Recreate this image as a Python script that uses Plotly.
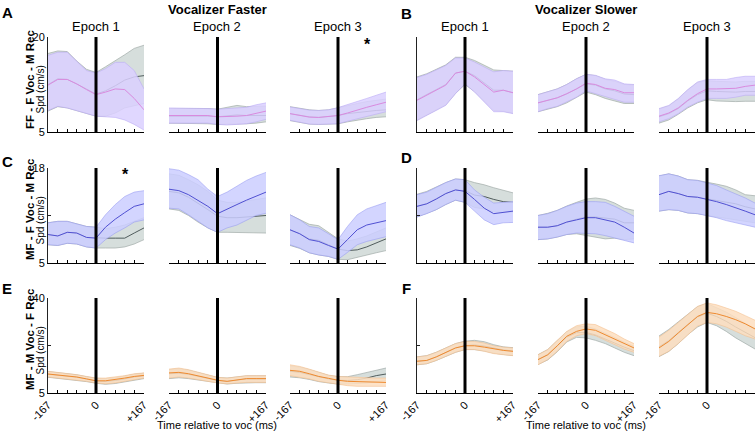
import plotly.graph_objects as go

# ---------------- data ----------------
time_ms = [-167, -133, -100, -67, -33, 0, 33, 67, 100, 133, 167]
x_tick_vals = [-167, -133, -100, -67, -33, 0, 33, 67, 100, 133, 167]
x_tick_text = ["-167", "", "", "", "", "0", "", "", "", "", "+167"]

epoch_titles = ["Epoch 1", "Epoch 2", "Epoch 3"]
group_titles = ["Vocalizer Faster", "Vocalizer Slower"]
row_labels = ["FF - F Voc - M Rec", "MF - F Voc - M Rec", "MF - M Voc - F Rec"]
panel_letters = ["A", "B", "C", "D", "E", "F"]

row_a_yrange = [5, 20]
row_c_yrange = [5, 18]
row_e_yrange = [5, 40]
row_a_yticks = [5, 20]
row_c_yticks = [5, 11.5, 18]
row_e_yticks = [5, 22.5, 40]
row_a_ytext = ["5", "20"]
row_c_ytext = ["5", "", "18"]
row_e_ytext = ["5", "", "40"]

# Panel A (Vocalizer Faster, FF - F Voc - M Rec)
A1_mean = [12.4, 13.3, 13.3, 12.6, 11.7, 10.9, 11.3, 11.8, 11.7, 10.3, 8.5]
A1_hi = [17.1, 17.6, 17.6, 16.1, 14.7, 14.3, 15.0, 16.0, 16.0, 14.7, 11.8]
A1_lo = [8.4, 9.05, 8.8, 8.4, 8.0, 7.5, 7.4, 7.3, 6.9, 6.2, 5.3]
A1_gmean = [12.5, 13.4, 13.3, 12.6, 11.8, 11.0, 11.5, 12.3, 13.2, 13.7, 13.9]
A1_ghi = [17.4, 17.8, 17.7, 16.2, 14.9, 14.4, 15.3, 16.2, 17.2, 18.2, 18.7]
A1_glo = [8.3, 9.0, 8.8, 8.4, 8.0, 7.5, 7.5, 8.0, 8.8, 9.2, 9.5]

A2_mean = [7.6, 7.6, 7.65, 7.7, 7.6, 7.4, 7.4, 7.5, 7.6, 7.9, 8.3]
A2_hi = [8.8, 8.8, 8.8, 8.8, 8.7, 8.6, 8.7, 8.8, 8.9, 9.3, 9.6]
A2_lo = [6.4, 6.4, 6.5, 6.5, 6.4, 6.2, 6.1, 6.2, 6.3, 6.6, 7.0]
A2_gmean = [7.5, 7.5, 7.6, 7.6, 7.5, 7.4, 7.5, 7.7, 7.6, 7.6, 7.6]
A2_ghi = [8.7, 8.7, 8.8, 8.8, 8.7, 8.6, 8.9, 9.2, 9.0, 9.0, 9.1]
A2_glo = [6.4, 6.4, 6.4, 6.4, 6.3, 6.2, 6.2, 6.3, 6.3, 6.4, 6.6]

A3_mean = [7.9, 7.6, 7.35, 7.3, 7.4, 7.6, 8.0, 8.5, 8.9, 9.3, 9.7]
A3_hi = [8.95, 8.7, 8.45, 8.4, 8.5, 8.85, 9.3, 9.8, 10.3, 10.8, 11.3]
A3_lo = [6.85, 6.5, 6.25, 6.2, 6.25, 6.3, 6.7, 7.1, 7.5, 7.9, 8.2]
A3_gmean = [7.9, 7.6, 7.4, 7.3, 7.4, 7.6, 7.9, 8.1, 8.3, 8.4, 8.5]
A3_ghi = [9.0, 8.7, 8.5, 8.4, 8.5, 8.8, 9.2, 9.5, 9.8, 10.0, 10.2]
A3_glo = [6.8, 6.5, 6.25, 6.2, 6.2, 6.3, 6.6, 6.9, 7.1, 7.3, 7.4]

# Panel B (Vocalizer Slower, FF - F Voc - M Rec)
B1_mean = [10.0, 10.8, 11.5, 12.4, 14.3, 14.6, 13.7, 12.5, 11.3, 11.6, 11.2]
B1_hi = [13.6, 14.1, 14.8, 15.5, 16.7, 16.7, 16.05, 15.3, 14.5, 14.7, 14.6]
B1_lo = [6.8, 7.6, 8.4, 9.2, 11.05, 12.6, 11.3, 9.7, 8.2, 8.2, 7.9]
B1_gmean = [10.1, 10.9, 11.6, 12.5, 14.3, 14.6, 13.9, 12.8, 11.6, 11.6, 11.2]
B1_ghi = [13.7, 14.2, 14.9, 15.6, 16.8, 16.8, 16.3, 15.6, 14.8, 14.7, 14.6]
B1_glo = [6.9, 7.7, 8.5, 9.3, 11.1, 12.5, 11.4, 9.9, 8.4, 8.3, 8.0]

B2_mean = [9.6, 10.0, 10.4, 11.05, 11.8, 12.7, 12.5, 11.9, 11.7, 11.2, 11.2]
B2_hi = [10.9, 11.3, 11.8, 12.5, 13.4, 14.1, 13.95, 13.4, 13.2, 12.6, 12.5]
B2_lo = [8.2, 8.7, 9.05, 9.7, 10.5, 11.5, 11.05, 10.5, 10.1, 9.7, 9.7]
B2_gmean = [9.6, 10.0, 10.4, 11.0, 11.8, 12.6, 12.4, 11.8, 11.5, 11.0, 10.9]
B2_ghi = [10.9, 11.3, 11.8, 12.5, 13.4, 14.1, 13.9, 13.3, 13.0, 12.5, 12.4]
B2_glo = [8.2, 8.6, 9.0, 9.6, 10.4, 11.3, 10.9, 10.3, 9.9, 9.5, 9.5]

B3_mean = [7.5, 8.0, 8.8, 10.0, 11.05, 11.8, 11.8, 11.8, 11.9, 12.2, 12.4]
B3_hi = [8.7, 9.2, 10.3, 11.7, 12.9, 13.3, 13.3, 13.3, 13.6, 13.8, 13.8]
B3_lo = [6.6, 7.1, 7.9, 8.95, 9.7, 10.3, 10.3, 10.3, 10.5, 10.8, 10.8]
B3_gmean = [7.4, 7.9, 8.7, 9.9, 10.9, 11.5, 11.4, 11.3, 11.3, 11.4, 11.4]
B3_ghi = [8.6, 9.1, 10.2, 11.6, 12.8, 13.1, 13.0, 12.9, 12.9, 13.0, 13.0]
B3_glo = [6.4, 6.9, 7.8, 8.8, 9.6, 10.1, 9.9, 9.8, 9.8, 9.85, 9.85]

# Panel C (Vocalizer Faster, MF - F Voc - M Rec)
C1_mean = [8.9, 8.7, 9.2, 9.1, 8.5, 8.4, 9.9, 11.0, 11.9, 12.75, 13.1]
C1_hi = [10.5, 10.7, 10.7, 10.4, 10.0, 9.9, 11.6, 13.0, 14.1, 14.7, 14.9]
C1_lo = [7.5, 7.4, 7.7, 7.6, 7.2, 7.05, 8.2, 9.1, 9.8, 10.6, 10.9]
C1_gmean = [8.9, 8.7, 9.2, 9.1, 8.5, 8.4, 8.4, 8.4, 8.4, 9.1, 9.8]
C1_ghi = [10.5, 10.7, 10.7, 10.4, 10.0, 9.9, 9.7, 9.9, 10.2, 10.7, 11.2]
C1_glo = [7.5, 7.4, 7.7, 7.6, 7.2, 7.05, 7.05, 7.05, 7.2, 7.6, 8.2]

C2_mean = [15.1, 14.9, 14.35, 13.6, 12.75, 11.75, 12.4, 13.0, 13.6, 14.1, 14.7]
C2_hi = [17.9, 17.7, 17.1, 16.4, 15.1, 14.1, 14.7, 15.5, 16.3, 16.9, 17.4]
C2_lo = [12.5, 12.4, 11.6, 10.7, 9.8, 9.2, 9.8, 10.2, 10.9, 11.5, 11.8]
C2_gmean = [14.8, 14.6, 14.0, 13.2, 12.3, 11.4, 11.2, 11.2, 11.3, 11.4, 11.5]
C2_ghi = [17.2, 17.0, 16.4, 15.7, 14.8, 13.6, 13.3, 13.3, 13.5, 13.7, 13.9]
C2_glo = [12.4, 12.2, 11.5, 10.6, 9.8, 9.2, 9.2, 9.15, 9.1, 9.1, 9.1]

C3_mean = [9.55, 9.0, 8.2, 7.95, 7.4, 6.9, 8.2, 9.55, 10.2, 10.5, 10.8]
C3_hi = [11.6, 10.9, 10.0, 9.8, 9.0, 8.2, 10.0, 11.6, 12.4, 12.8, 13.3]
C3_lo = [7.5, 7.05, 6.4, 6.1, 5.9, 5.5, 6.45, 7.5, 7.95, 8.3, 8.6]
C3_gmean = [9.5, 9.0, 8.3, 8.1, 7.5, 6.9, 6.7, 6.8, 7.2, 7.7, 8.3]
C3_ghi = [11.6, 10.9, 10.3, 10.1, 9.2, 8.3, 8.0, 8.3, 8.7, 9.2, 9.8]
C3_glo = [7.4, 7.0, 6.4, 6.1, 5.9, 5.5, 5.45, 5.8, 6.1, 6.4, 6.7]

# Panel D (Vocalizer Slower, MF - F Voc - M Rec)
D1_mean = [12.75, 13.1, 13.75, 14.5, 15.0, 14.8, 13.7, 12.5, 11.75, 11.9, 12.1]
D1_hi = [14.35, 14.7, 15.35, 16.0, 16.5, 16.4, 15.0, 14.0, 13.2, 13.3, 13.4]
D1_lo = [11.3, 11.75, 12.3, 13.0, 13.6, 13.3, 12.1, 10.9, 10.25, 10.5, 10.55]
D1_gmean = [12.8, 13.1, 13.8, 14.5, 15.0, 14.9, 14.3, 14.1, 13.7, 13.4, 13.3]
D1_ghi = [14.4, 14.8, 15.4, 16.0, 16.5, 16.4, 16.0, 15.7, 15.3, 14.95, 14.6]
D1_glo = [11.3, 11.8, 12.3, 13.0, 13.6, 13.3, 12.6, 12.4, 12.0, 11.9, 12.0]

D2_mean = [9.9, 9.9, 10.1, 10.6, 10.9, 11.2, 11.2, 10.9, 10.6, 9.9, 9.1]
D2_hi = [11.5, 11.75, 12.2, 12.75, 13.2, 13.4, 13.4, 13.3, 12.75, 12.1, 11.4]
D2_lo = [8.2, 8.3, 8.55, 8.9, 9.1, 9.1, 9.0, 8.75, 8.4, 8.1, 7.75]
D2_gmean = [9.9, 9.9, 10.1, 10.6, 11.0, 11.3, 11.3, 11.2, 11.0, 10.5, 10.5]
D2_ghi = [11.5, 11.8, 12.2, 12.8, 13.3, 13.75, 13.9, 13.7, 13.2, 12.5, 12.2]
D2_glo = [8.2, 8.3, 8.55, 8.9, 9.0, 8.8, 8.55, 8.3, 8.4, 8.2, 8.3]

D3_mean = [14.35, 14.8, 14.5, 14.1, 14.0, 13.75, 13.4, 13.0, 12.5, 12.1, 11.6]
D3_hi = [16.95, 17.2, 16.9, 16.4, 16.3, 16.0, 15.6, 15.0, 14.5, 13.9, 13.2]
D3_lo = [12.1, 12.3, 12.2, 11.85, 11.75, 11.5, 11.2, 10.8, 10.5, 10.25, 9.9]
D3_gmean = [14.35, 14.8, 14.5, 14.1, 14.0, 13.8, 13.6, 13.4, 13.1, 12.7, 12.4]
D3_ghi = [16.9, 17.2, 16.9, 16.4, 16.3, 16.1, 15.8, 15.5, 15.0, 14.35, 14.2]
D3_glo = [12.1, 12.3, 12.2, 11.85, 11.75, 11.5, 11.3, 11.1, 10.9, 10.7, 10.5]

# Panel E (Vocalizer Faster, MF - M Voc - F Rec)
E1_mean = [12.0, 11.6, 11.4, 10.9, 10.2, 9.5, 9.5, 9.9, 10.5, 11.1, 11.5]
E1_hi = [13.0, 12.6, 12.4, 11.75, 11.1, 10.5, 10.5, 10.9, 11.4, 12.1, 12.4]
E1_lo = [10.9, 10.5, 10.2, 9.9, 9.3, 8.7, 8.4, 8.7, 9.3, 9.9, 10.5]
E1_gmean = [11.9, 11.5, 11.3, 10.8, 10.1, 9.4, 9.3, 9.6, 10.2, 10.9, 11.3]
E1_ghi = [12.9, 12.5, 12.3, 11.7, 11.0, 10.4, 10.3, 10.6, 11.2, 11.9, 12.3]
E1_glo = [10.8, 10.4, 10.1, 9.8, 9.2, 8.6, 8.2, 8.5, 9.1, 9.7, 10.3]

E2_mean = [12.4, 12.6, 12.1, 11.4, 10.5, 9.7, 9.3, 9.9, 10.3, 10.3, 10.3]
E2_hi = [13.8, 14.2, 13.6, 12.6, 11.6, 10.8, 10.5, 10.9, 11.4, 11.4, 11.4]
E2_lo = [10.5, 10.9, 10.5, 9.9, 9.3, 8.7, 8.4, 8.7, 8.9, 8.9, 8.9]
E2_gmean = [12.1, 12.3, 11.9, 11.2, 10.4, 9.6, 9.3, 9.8, 10.2, 10.2, 10.2]
E2_ghi = [13.6, 13.9, 13.4, 12.5, 11.5, 10.7, 10.5, 10.9, 11.3, 11.3, 11.3]
E2_glo = [10.3, 10.6, 10.3, 9.8, 9.2, 8.6, 8.3, 8.6, 8.8, 8.8, 8.8]

E3_mean = [13.35, 13.0, 12.1, 11.1, 10.4, 9.7, 9.3, 9.2, 9.05, 8.9, 8.9]
E3_hi = [15.4, 14.8, 13.8, 12.6, 11.6, 11.1, 10.9, 10.65, 10.5, 10.5, 10.5]
E3_lo = [11.4, 10.9, 10.2, 9.3, 8.7, 8.1, 7.7, 7.45, 7.45, 7.45, 7.45]
E3_gmean = [13.0, 12.6, 11.8, 10.9, 10.2, 9.7, 9.6, 9.9, 10.5, 11.4, 12.0]
E3_ghi = [15.0, 14.5, 13.6, 12.5, 11.5, 11.0, 11.0, 11.75, 12.6, 13.6, 14.2]
E3_glo = [10.9, 10.6, 10.0, 9.2, 8.7, 8.3, 8.3, 8.4, 8.7, 9.1, 9.6]

# Panel F (Vocalizer Slower, MF - M Voc - F Rec)
F1_mean = [16.7, 17.0, 18.3, 20.0, 21.6, 22.4, 22.4, 21.9, 21.2, 20.7, 20.35]
F1_hi = [18.3, 18.75, 20.0, 21.6, 23.2, 24.0, 24.0, 23.4, 22.4, 21.9, 21.6]
F1_lo = [15.4, 15.8, 17.0, 18.5, 20.0, 21.0, 21.0, 20.35, 19.5, 19.1, 18.75]
F1_gmean = [16.7, 17.0, 18.3, 20.0, 21.6, 22.5, 22.7, 22.3, 21.5, 20.9, 20.5]
F1_ghi = [18.3, 18.75, 20.0, 21.6, 23.2, 24.1, 24.4, 23.9, 22.8, 22.0, 21.7]
F1_glo = [15.4, 15.8, 17.0, 18.5, 20.0, 21.0, 21.0, 20.5, 19.7, 19.2, 18.8]

F2_mean = [17.3, 19.1, 22.4, 25.9, 27.7, 28.6, 28.1, 26.5, 24.9, 23.2, 21.6]
F2_hi = [19.1, 21.0, 24.4, 27.7, 29.8, 30.5, 30.2, 28.6, 26.9, 24.9, 23.2]
F2_lo = [15.4, 17.3, 20.35, 24.0, 26.1, 26.9, 26.1, 24.4, 22.8, 21.2, 20.0]
F2_gmean = [17.3, 19.1, 22.3, 25.6, 27.2, 27.3, 26.4, 25.0, 23.4, 21.9, 20.6]
F2_ghi = [19.1, 21.0, 24.3, 27.5, 29.4, 29.6, 28.6, 27.1, 25.4, 23.7, 22.2]
F2_glo = [15.5, 17.2, 20.2, 23.8, 25.5, 25.3, 24.4, 23.2, 21.6, 20.0, 18.75]

F3_mean = [21.6, 24.0, 27.1, 30.2, 33.2, 34.7, 34.2, 33.2, 32.0, 30.5, 28.6]
F3_hi = [25.6, 28.1, 31.0, 33.9, 36.9, 38.2, 37.5, 36.3, 35.1, 33.5, 31.8]
F3_lo = [18.5, 20.35, 23.2, 26.5, 29.6, 31.0, 30.5, 29.3, 27.7, 26.1, 24.9]
F3_gmean = [22.0, 24.3, 27.3, 30.3, 33.0, 34.4, 33.2, 31.4, 29.3, 27.4, 25.4]
F3_ghi = [26.0, 28.4, 31.2, 34.0, 36.8, 38.0, 36.5, 34.8, 32.8, 30.6, 28.8]
F3_glo = [18.4, 20.3, 23.2, 26.5, 29.3, 31.0, 29.8, 27.7, 25.3, 23.4, 21.2]

# ---------------- layout / styling ----------------
W, H = 756, 433
FONT = "Liberation Sans, Arial, Helvetica, sans-serif"

col_px = [(48, 144), (169, 266), (290, 386), (417, 513), (538, 634), (659, 755)]
row_px = [(37, 132), (168, 263), (298, 393)]

row_styles = [
    dict(fill="rgba(219,208,255,0.85)", edge="rgba(185,168,245,0.8)", line="#d98ade"),
    dict(fill="rgba(203,206,255,0.85)", edge="rgba(150,155,240,0.8)", line="#5050d2"),
    dict(fill="rgba(253,222,192,0.85)", edge="rgba(245,190,140,0.8)", line="#ee8a30"),
]
gray_fill = "rgb(214,222,220)"
gray_edge = "rgb(160,170,168)"
gray_line = "rgb(80,92,92)"

panels = [
    [(A1_mean, A1_hi, A1_lo, A1_gmean, A1_ghi, A1_glo),
     (A2_mean, A2_hi, A2_lo, A2_gmean, A2_ghi, A2_glo),
     (A3_mean, A3_hi, A3_lo, A3_gmean, A3_ghi, A3_glo),
     (B1_mean, B1_hi, B1_lo, B1_gmean, B1_ghi, B1_glo),
     (B2_mean, B2_hi, B2_lo, B2_gmean, B2_ghi, B2_glo),
     (B3_mean, B3_hi, B3_lo, B3_gmean, B3_ghi, B3_glo)],
    [(C1_mean, C1_hi, C1_lo, C1_gmean, C1_ghi, C1_glo),
     (C2_mean, C2_hi, C2_lo, C2_gmean, C2_ghi, C2_glo),
     (C3_mean, C3_hi, C3_lo, C3_gmean, C3_ghi, C3_glo),
     (D1_mean, D1_hi, D1_lo, D1_gmean, D1_ghi, D1_glo),
     (D2_mean, D2_hi, D2_lo, D2_gmean, D2_ghi, D2_glo),
     (D3_mean, D3_hi, D3_lo, D3_gmean, D3_ghi, D3_glo)],
    [(E1_mean, E1_hi, E1_lo, E1_gmean, E1_ghi, E1_glo),
     (E2_mean, E2_hi, E2_lo, E2_gmean, E2_ghi, E2_glo),
     (E3_mean, E3_hi, E3_lo, E3_gmean, E3_ghi, E3_glo),
     (F1_mean, F1_hi, F1_lo, F1_gmean, F1_ghi, F1_glo),
     (F2_mean, F2_hi, F2_lo, F2_gmean, F2_ghi, F2_glo),
     (F3_mean, F3_hi, F3_lo, F3_gmean, F3_ghi, F3_glo)],
]
yranges = [row_a_yrange, row_c_yrange, row_e_yrange]
yticks = [row_a_yticks, row_c_yticks, row_e_yticks]
ytexts = [row_a_ytext, row_c_ytext, row_e_ytext]


def px_x(p):
    return p / W


def px_y(p):
    return 1 - p / H


fig = go.Figure()
layout_axes = {}
shapes = []

n = 0
for r in range(3):
    for c in range(6):
        n += 1
        xa = "x" if n == 1 else f"x{n}"
        ya = "y" if n == 1 else f"y{n}"
        mean, hi, lo, gmean, ghi, glo = panels[r][c]
        st = row_styles[r]
        # gray (comparison) band
        fig.add_trace(go.Scatter(x=time_ms, y=ghi, mode="lines", xaxis=xa, yaxis=ya,
                                 line=dict(color=gray_edge, width=0.7), hoverinfo="skip"))
        fig.add_trace(go.Scatter(x=time_ms, y=glo, mode="lines", xaxis=xa, yaxis=ya,
                                 fill="tonexty", fillcolor=gray_fill,
                                 line=dict(color=gray_edge, width=0.7), hoverinfo="skip"))
        fig.add_trace(go.Scatter(x=time_ms, y=gmean, mode="lines", xaxis=xa, yaxis=ya,
                                 line=dict(color=gray_line, width=1), hoverinfo="skip"))
        # coloured band
        fig.add_trace(go.Scatter(x=time_ms, y=hi, mode="lines", xaxis=xa, yaxis=ya,
                                 line=dict(color=st["edge"], width=0.7), hoverinfo="skip"))
        fig.add_trace(go.Scatter(x=time_ms, y=lo, mode="lines", xaxis=xa, yaxis=ya,
                                 fill="tonexty", fillcolor=st["fill"],
                                 line=dict(color=st["edge"], width=0.7), hoverinfo="skip"))
        fig.add_trace(go.Scatter(x=time_ms, y=mean, mode="lines", xaxis=xa, yaxis=ya,
                                 line=dict(color=st["line"], width=1), hoverinfo="skip"))

        x0, x1 = col_px[c]
        y0, y1 = row_px[r]
        first_col = c in (0, 3)
        show_xlabels = (r == 2)
        layout_axes["xaxis" if n == 1 else f"xaxis{n}"] = dict(
            domain=[px_x(x0), px_x(x1)], anchor=ya, range=[-167, 167],
            automargin=False,
            showgrid=False, zeroline=False, showline=True, linecolor="black", linewidth=1.3,
            ticks="inside", ticklen=3, tickwidth=1, tickcolor="black",
            tickvals=x_tick_vals,
            ticktext=x_tick_text if show_xlabels else [""] * len(x_tick_vals),
            showticklabels=show_xlabels, tickangle=-45,
            tickfont=dict(family=FONT, size=11, color="black"),
        )
        layout_axes["yaxis" if n == 1 else f"yaxis{n}"] = dict(
            domain=[px_y(y1), px_y(y0)], anchor=xa, range=yranges[r],
            automargin=False,
            showgrid=False, zeroline=False,
            showline=first_col, linecolor="#222", linewidth=1,
            ticks="inside" if first_col else "", ticklen=3, tickcolor="#222",
            tickvals=yticks[r],
            ticktext=ytexts[r] if c == 0 else [""] * len(yticks[r]),
            showticklabels=(c == 0),
            tickfont=dict(family=FONT, size=11, color="black"),
        )
        shapes.append(dict(type="line", xref=xa, yref=f"{ya} domain",
                           x0=0, x1=0, y0=0, y1=1,
                           line=dict(color="black", width=3), layer="above"))

annotations = []


def add_text(text, xp, yp, size, bold=False, angle=0, xanchor="center", yanchor="middle"):
    annotations.append(dict(
        text=f"<b>{text}</b>" if bold else text,
        x=px_x(xp), y=px_y(yp), xref="paper", yref="paper",
        showarrow=False, textangle=angle, xanchor=xanchor, yanchor=yanchor,
        font=dict(family=FONT, size=size, color="black"),
    ))


# group titles
add_text(group_titles[0], 217, 9, 13, bold=True)
add_text(group_titles[1], 586, 9, 13, bold=True)
# epoch titles
for c in range(6):
    x0, x1 = col_px[c]
    add_text(epoch_titles[c % 3], (x0 + x1) / 2, 26, 13)
# panel letters
letter_pos = [(7, 12), (406, 13), (7, 161), (406, 158), (7, 288), (406, 288)]
for letter, (lx, ly) in zip(panel_letters, letter_pos):
    add_text(letter, lx, ly, 15, bold=True)
# row labels
row_label_y = [80, 209, 339]
for r in range(3):
    y0, y1 = row_px[r]
    add_text(row_labels[r], 30, row_label_y[r], 11.5, bold=True, angle=-90)
    add_text("Spd (cm/s)", 40, (y0 + y1) / 2 + 5, 10, angle=-90)
# x titles
add_text("Time relative to voc (ms)", 217, 425, 11)
add_text("Time relative to voc (ms)", 586, 425, 11)
# significance stars
add_text("*", 367, 45, 16, bold=True)
add_text("*", 125, 175, 16, bold=True)

fig.update_layout(
    width=W, height=H, margin=dict(l=0, r=0, t=0, b=0, autoexpand=False),
    paper_bgcolor="white", plot_bgcolor="white", showlegend=False,
    shapes=shapes, annotations=annotations, font=dict(family=FONT),
    **layout_axes,
)

fig.write_html("out.html", config={"displayModeBar": False, "staticPlot": True},
               post_script="document.body.style.margin='0';document.body.style.overflow='hidden';")
